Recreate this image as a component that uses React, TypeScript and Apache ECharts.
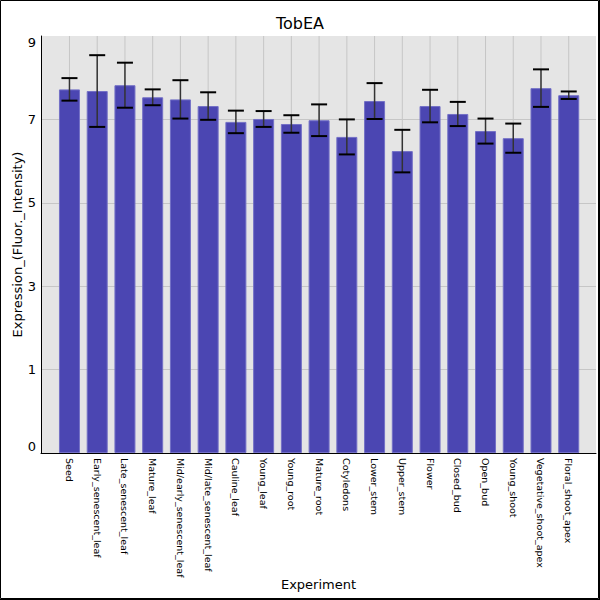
import React, { useEffect, useRef } from "react";
import * as echarts from "echarts";

const categories = [
  "Seed",
  "Early_senescent_leaf",
  "Late_senescent_leaf",
  "Mature_leaf",
  "Mid/early_senescent_leaf",
  "Mid/late_senescent_leaf",
  "Cauline_leaf",
  "Young_leaf",
  "Young_root",
  "Mature_root",
  "Cotyledons",
  "Lower_stem",
  "Upper_stem",
  "Flower",
  "Closed_bud",
  "Open_bud",
  "Young_shoot",
  "Vegetative_shoot_apex",
  "Floral_shoot_apex",
];

const means = [7.72, 7.68, 7.82, 7.53, 7.48, 7.32, 6.94, 7.01, 6.89, 6.98, 6.58, 7.44, 6.24, 7.32, 7.13, 6.72, 6.55, 7.75, 7.58];
const sds = [0.27, 0.86, 0.54, 0.19, 0.46, 0.33, 0.27, 0.19, 0.21, 0.38, 0.42, 0.43, 0.51, 0.39, 0.29, 0.3, 0.35, 0.45, 0.09];

const yMin = -1;
const yMax = 9;
const yStep = 2;

const FONT = "DejaVu Sans";
const GRID_COLOR = "#c6c6c6";

export default function App() {
  const ref = useRef<HTMLDivElement>(null);
  useEffect(() => {
    if (!ref.current) return;
    const chart = echarts.init(ref.current, undefined, { renderer: "svg" });
    const errData = means.map((m, i) => [i, m, sds[i]]);
    const gridData = categories.map((c, i) => [i, yMax]);
    const top = 36;
    const bottom = 147;
    chart.setOption({
      animation: false,
      backgroundColor: "#ffffff",
      textStyle: { fontFamily: FONT },
      title: {
        text: "TobEA",
        left: "center",
        top: 10,
        textStyle: { fontFamily: FONT, fontSize: 16, fontWeight: "normal", color: "#000" },
      },
      grid: [
        {
          left: 41,
          right: 4,
          top,
          bottom,
          show: true,
          backgroundColor: "#e5e5e5",
          borderWidth: 0,
        },
        {
          left: 55.6,
          right: 17.4,
          top,
          bottom,
          show: false,
        },
      ],
      xAxis: [
        {
          type: "value",
          gridIndex: 0,
          min: 0,
          max: 1,
          name: "Experiment",
          nameLocation: "middle",
          nameGap: 125,
          nameMoveOverlap: false,
          nameTextStyle: { fontFamily: FONT, fontSize: 13, color: "#000" },
          axisLine: { show: true, onZero: false, lineStyle: { color: "#000", width: 1 } },
          axisTick: { show: false },
          axisLabel: { show: false },
          splitLine: { show: false },
        },
        {
          type: "category",
          gridIndex: 1,
          data: categories,
          axisLine: { show: false, onZero: false },
          axisTick: { show: false },
          axisLabel: {
            interval: 0,
            rotate: -90,
            margin: 5,
            fontSize: 9.5,
            fontFamily: FONT,
            color: "#000",
          },
          splitLine: { show: false },
        },
      ],
      yAxis: [
        {
          type: "value",
          gridIndex: 0,
          min: yMin,
          max: yMax,
          interval: yStep,
          name: "Expression_(Fluor._Intensity)",
          nameLocation: "middle",
          nameRotate: 90,
          nameGap: 17,
          nameMoveOverlap: false,
          nameTextStyle: { fontFamily: FONT, fontSize: 13, color: "#000" },
          axisLine: { show: true, onZero: false, lineStyle: { color: "#000", width: 1 } },
          axisTick: { show: false },
          axisLabel: {
            margin: 5,
            fontSize: 13,
            fontFamily: FONT,
            color: "#000",
            verticalAlignMinLabel: "bottom",
            verticalAlignMaxLabel: "top",
            formatter: (v: number) => (v === yMin ? "0" : String(v)),
          },
          splitLine: {
            show: true,
            showMinLine: false,
            showMaxLine: false,
            lineStyle: { color: GRID_COLOR, width: 1 },
          },
        },
        {
          type: "value",
          gridIndex: 1,
          min: yMin,
          max: yMax,
          interval: yStep,
          startValue: yMin,
          show: false,
          splitLine: { show: false },
        },
      ],
      series: [
        {
          type: "custom",
          xAxisIndex: 1,
          yAxisIndex: 1,
          data: gridData,
          encode: { x: 0, y: 1 },
          z: 1,
          silent: true,
          clip: false,
          renderItem: (params: any, api: any) => {
            const idx = api.value(0);
            const p1 = api.coord([idx, yMax]);
            const p2 = api.coord([idx, yMin]);
            return {
              type: "line",
              shape: { x1: p1[0], y1: p1[1], x2: p2[0], y2: p2[1] },
              style: { stroke: GRID_COLOR, lineWidth: 1 },
            };
          },
        },
        {
          type: "bar",
          xAxisIndex: 1,
          yAxisIndex: 1,
          data: means,
          barWidth: 21,
          itemStyle: { color: "#4b46b2", borderColor: "#7370c6", borderWidth: 1 },
          z: 2,
        },
        {
          type: "custom",
          xAxisIndex: 1,
          yAxisIndex: 1,
          data: errData,
          encode: { x: 0, y: 1 },
          z: 3,
          renderItem: (params: any, api: any) => {
            const idx = api.value(0);
            const m = api.value(1);
            const s = api.value(2);
            const p1 = api.coord([idx, m + s]);
            const p2 = api.coord([idx, m - s]);
            const hw = 8;
            return {
              type: "group",
              children: [
                {
                  type: "line",
                  shape: { x1: p1[0], y1: p1[1], x2: p2[0], y2: p2[1] },
                  style: { stroke: "#333", lineWidth: 1.5 },
                },
                {
                  type: "line",
                  shape: { x1: p1[0] - hw, y1: p1[1], x2: p1[0] + hw, y2: p1[1] },
                  style: { stroke: "#000", lineWidth: 2 },
                },
                {
                  type: "line",
                  shape: { x1: p2[0] - hw, y1: p2[1], x2: p2[0] + hw, y2: p2[1] },
                  style: { stroke: "#000", lineWidth: 2 },
                },
              ],
            };
          },
        },
      ],
      graphic: [
        {
          type: "rect",
          shape: { x: 0.5, y: 0.5, width: 598, height: 598 },
          style: { fill: "none", stroke: "#000", lineWidth: 1 },
          silent: true,
        },
        {
          type: "line",
          shape: { x1: 599.5, y1: 0, x2: 599.5, y2: 600 },
          style: { stroke: "#000", lineWidth: 1 },
          silent: true,
        },
        {
          type: "line",
          shape: { x1: 0, y1: 599.5, x2: 600, y2: 599.5 },
          style: { stroke: "#000", lineWidth: 1 },
          silent: true,
        },
      ],
    });
    return () => chart.dispose();
  }, []);
  return (
    <div
      ref={ref}
      style={{ position: "absolute", left: 0, top: 0, width: 600, height: 600 }}
    />
  );
}
